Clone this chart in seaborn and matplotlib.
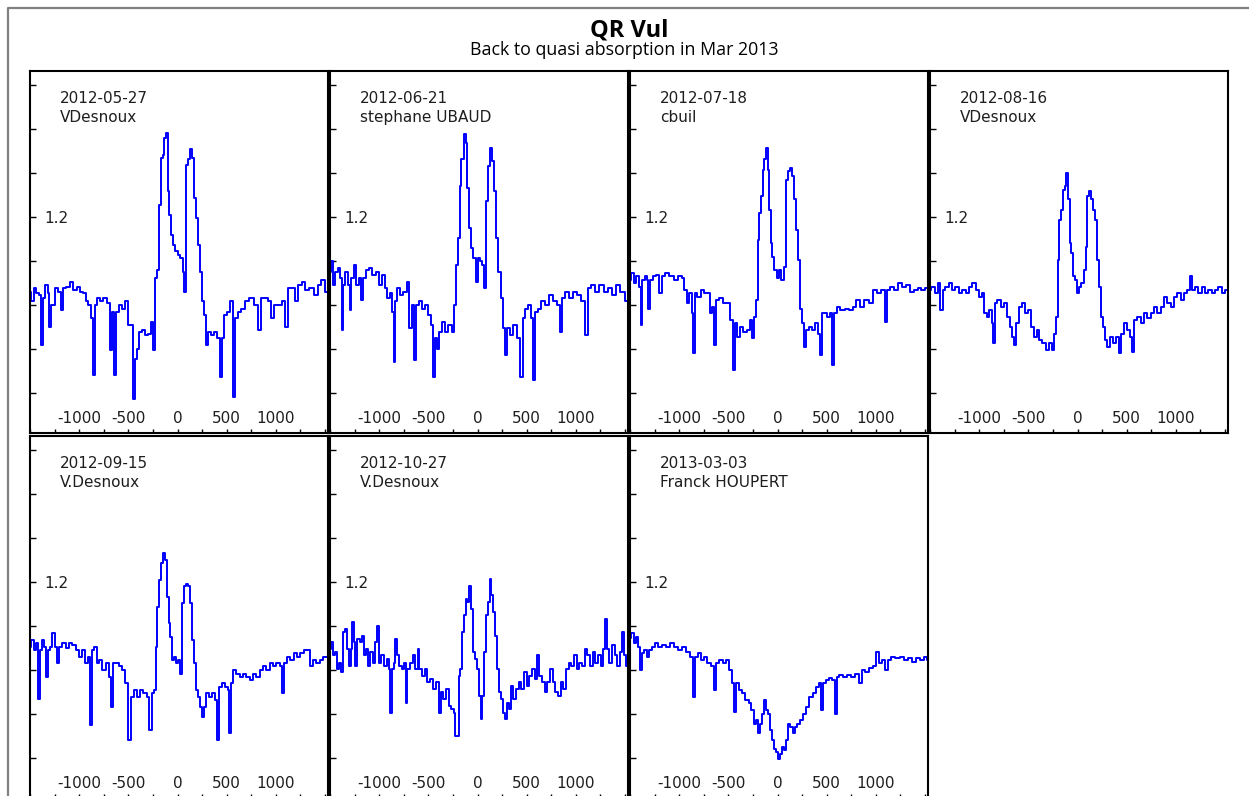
import matplotlib
matplotlib.use("Agg")
import matplotlib.pyplot as plt
import seaborn as sns
from matplotlib.ticker import FixedLocator, FixedFormatter
from matplotlib.lines import Line2D

# ---------------- data ----------------
title = "QR Vul"
subtitle = "Back to quasi absorption in Mar 2013"
dates = ["2012-05-27", "2012-06-21", "2012-07-18", "2012-08-16",
         "2012-09-15", "2012-10-27", "2013-03-03"]
observers = ["VDesnoux", "stephane UBAUD", "cbuil", "VDesnoux",
             "V.Desnoux", "V.Desnoux", "Franck HOUPERT"]
x_tick_values = [-1500, -1000, -500, 0, 500, 1000, 1500]
x_tick_labels = ["", "-1000", "-500", "0", "500", "1000", ""]
x_minor_values = [-1250, -750, -250, 250, 750, 1250]
y_tick_values = [1.2]
y_tick_labels = ["1.2"]
y_minor_values = [0.8, 0.9, 1.0, 1.1, 1.3, 1.4, 1.5]

vel_1 = [-1502, -1475, -1451, -1417, -1393, -1376, -1359, -1332, -1312, -1298, -1278, -1258,
         -1231, -1203, -1173, -1146, -1112, -1078, -1044, -1010, -976, -949, -919, -892, -871,
         -851, -831, -807, -773, -739, -705, -671, -654, -631, -610, -580, -546, -512, -485,
         -464, -444, -424, -400, -376, -349, -315, -281, -258, -241, -220, -197, -180, -163,
         -142, -125, -105, -92, -75, -54, -34, -10, 14, 41, 61, 78, 95, 115, 136, 156, 173,
         193, 217, 237, 258, 278, 295, 319, 353, 386, 417, 437, 458, 481, 515, 546, 573, 593,
         627, 668, 709, 753, 797, 837, 864, 905, 939, 966, 1000, 1041, 1081, 1108, 1136, 1176,
         1210, 1244, 1278, 1319, 1363, 1407, 1441, 1475, 1515, 1549]
flux_1 = [1.030, 1.008, 1.038, 1.027, 1.023, 0.909, 1.015, 1.046, 1.027, 0.951, 1.000, 1.000,
          1.038, 1.030, 0.989, 1.038, 1.042, 1.053, 1.034, 1.042, 1.030, 1.027, 1.008, 1.000, 0.970,
          0.840, 1.000, 1.015, 1.008, 1.015, 1.004, 0.897, 0.985, 0.840, 0.985, 1.000, 0.992, 1.008, 0.954,
          0.954, 0.787, 0.878, 0.901, 0.939, 0.943, 0.932, 0.935, 0.962, 0.897, 1.061, 1.080, 1.228, 1.335,
          1.342, 1.380, 1.390, 1.259, 1.205, 1.160, 1.137, 1.122, 1.114, 1.106, 1.076, 1.030, 1.319, 1.331, 1.354, 1.335, 1.243,
          1.198, 1.137, 1.076, 1.008, 0.977, 0.909, 0.939, 0.932, 0.939, 0.924, 0.837, 0.924, 0.977, 0.985, 1.008, 0.791, 0.970,
          0.985, 0.992, 1.008, 1.015, 1.000, 0.943, 1.015, 1.015, 1.008, 0.970, 1.000, 1.000, 1.008, 0.951, 1.038, 1.038,
          1.008, 1.046, 1.053, 1.034, 1.038, 1.023, 1.046, 1.057, 1.030, 1.038]

vel_2 = [-1502, -1481, -1461, -1434, -1407, -1387, -1373, -1356, -1332, -1309, -1292, -1271,
         -1248, -1220, -1197, -1180, -1156, -1122, -1088, -1054, -1020, -986, -959, -932, -902,
         -874, -858, -844, -827, -803, -773, -739, -705, -681, -661, -631, -610, -580, -546,
         -512, -485, -464, -444, -424, -400, -376, -349, -315, -281, -248, -227, -210, -190,
         -173, -153, -132, -112, -95, -75, -54, -31, -10, 10, 34, 54, 75, 92, 112, 132, 153,
         176, 200, 224, 244, 268, 288, 312, 346, 380, 414, 447, 471, 498, 532, 556, 573, 593,
         627, 668, 709, 742, 787, 831, 844, 864, 905, 946, 990, 1034, 1075, 1108, 1136, 1176,
         1217, 1261, 1305, 1346, 1386, 1431, 1475, 1515, 1549]
flux_2 = [1.076, 1.099, 1.046, 1.076, 1.084, 1.061, 0.943, 1.046, 1.076, 1.046, 0.989, 1.061,
          1.091, 1.046, 1.061, 1.011, 1.061, 1.080, 1.084, 1.068, 1.076, 1.046, 1.068, 1.038, 1.015,
          1.027, 0.985, 0.871, 1.008, 1.038, 1.023, 1.030, 1.053, 0.947, 1.000, 0.874, 1.000, 1.008, 0.992,
          1.000, 0.977, 0.954, 0.837, 0.924, 0.901, 0.939, 0.962, 0.939, 0.954, 0.939, 1.000, 1.091, 1.152,
          1.270, 1.331, 1.388, 1.369, 1.266, 1.175, 1.129, 1.106, 1.053, 1.106, 1.099, 1.091, 1.038, 1.236, 1.316, 1.357, 1.327,
          1.259, 1.152, 1.076, 1.015, 0.947, 0.886, 0.947, 0.932, 0.954, 0.924, 0.837, 0.970, 0.992, 1.000, 0.970, 0.829, 0.985,
          0.992, 1.008, 1.000, 1.023, 1.008, 1.000, 0.939, 1.015, 1.030, 1.015, 1.030, 1.023, 1.008, 0.932, 1.038, 1.046,
          1.030, 1.046, 1.030, 1.038, 1.023, 1.046, 1.030, 1.008, 1.030]

vel_3 = [-1502, -1475, -1448, -1421, -1400, -1383, -1366, -1339, -1319, -1305, -1285, -1248,
         -1214, -1187, -1163, -1122, -1078, -1034, -993, -959, -936, -909, -885, -864, -851,
         -834, -800, -766, -732, -702, -671, -654, -631, -610, -576, -536, -502, -468, -447,
         -427, -400, -366, -332, -298, -268, -247, -224, -210, -193, -176, -159, -142, -125,
         -108, -92, -78, -61, -44, -20, 3, 27, 51, 75, 92, 112, 132, 153, 173, 193, 217, 241,
         261, 281, 302, 329, 363, 397, 420, 437, 458, 488, 522, 549, 566, 586, 617, 661, 702,
         742, 786, 820, 861, 905, 946, 990, 1034, 1075, 1105, 1125, 1159, 1203, 1244, 1285,
         1329, 1373, 1407, 1441, 1481, 1515, 1549]
flux_3 = [1.057, 1.072, 1.049, 1.065, 1.042, 0.954, 1.057, 1.065, 1.057, 0.992, 1.057, 1.065,
          1.068, 1.027, 1.065, 1.072, 1.065, 1.057, 1.065, 1.061, 1.034, 1.004, 1.027, 0.981, 0.890,
          1.027, 1.019, 1.034, 1.027, 1.027, 0.981, 0.996, 0.909, 1.011, 1.015, 1.004, 1.004, 0.966, 0.852,
          0.958, 0.928, 0.951, 0.939, 0.943, 0.966, 0.924, 0.973, 1.011, 1.148, 1.209, 1.247, 1.308, 1.331,
          1.357, 1.308, 1.217, 1.141, 1.110, 1.080, 1.061, 1.080, 1.057, 1.087, 1.285, 1.304, 1.312, 1.293, 1.240, 1.171, 1.103, 0.992,
          0.958, 0.905, 0.943, 0.951, 0.943, 0.958, 0.935, 0.886, 0.981, 0.981, 0.973, 0.981, 0.863, 0.981, 0.996, 0.989, 0.992,
          0.989, 0.996, 1.011, 0.996, 1.011, 1.004, 1.034, 1.027, 1.034, 0.962, 1.034, 1.042, 1.034, 1.049, 1.042,
          1.046, 1.030, 1.034, 1.038, 1.034, 1.038, 1.034]

vel_4 = [-1502, -1468, -1434, -1407, -1383, -1359, -1326, -1292, -1258, -1224, -1190, -1156,
         -1122, -1088, -1054, -1020, -986, -959, -936, -909, -885, -864, -851, -831, -797,
         -763, -729, -702, -675, -654, -634, -614, -586, -553, -519, -485, -458, -431, -403,
         -376, -342, -308, -275, -247, -227, -210, -193, -176, -159, -142, -122, -105, -88,
         -75, -58, -41, -20, 3, 27, 51, 71, 92, 108, 125, 146, 166, 186, 207, 227, 244, 264,
         285, 312, 346, 380, 407, 431, 454, 481, 515, 542, 566, 590, 624, 658, 692, 725, 759,
         793, 827, 861, 895, 929, 963, 997, 1031, 1064, 1098, 1132, 1156, 1176, 1210, 1244,
         1278, 1312, 1346, 1380, 1414, 1448, 1481, 1515, 1549]
flux_4 = [1.034, 1.042, 1.027, 1.049, 0.989, 1.034, 1.042, 1.049, 1.034, 1.042, 1.027, 1.034,
          1.027, 1.042, 1.049, 1.034, 1.019, 1.027, 0.981, 0.973, 0.989, 0.958, 0.913, 1.004, 1.011,
          0.996, 1.004, 0.973, 0.951, 0.928, 0.909, 0.958, 0.996, 1.004, 0.981, 0.989, 0.951, 0.928, 0.943,
          0.920, 0.913, 0.897, 0.913, 0.897, 0.935, 0.973, 1.103, 1.194, 1.217, 1.262, 1.270, 1.300, 1.240,
          1.141, 1.118, 1.065, 1.057, 1.027, 1.042, 1.049, 1.080, 1.133, 1.247, 1.259, 1.240, 1.217, 1.194, 1.103, 1.042, 0.973, 0.951,
          0.920, 0.905, 0.928, 0.913, 0.928, 0.890, 0.935, 0.958, 0.943, 0.928, 0.894, 0.966, 0.973, 0.958, 0.981, 0.970, 0.981,
          0.996, 0.981, 0.996, 1.019, 1.004, 0.996, 1.019, 1.027, 1.011, 1.027, 1.034, 1.065, 1.034, 1.042, 1.027,
          1.042, 1.027, 1.034, 1.027, 1.034, 1.042, 1.027, 1.034, 1.004]

vel_5 = [-1502, -1475, -1448, -1427, -1410, -1393, -1366, -1346, -1332, -1312, -1285, -1264,
         -1237, -1214, -1190, -1156, -1122, -1088, -1054, -1020, -986, -953, -925, -905, -885,
         -864, -837, -810, -783, -749, -715, -688, -668, -647, -614, -580, -546, -512, -485,
         -464, -431, -397, -363, -329, -295, -275, -254, -231, -214, -197, -180, -159, -142,
         -122, -102, -81, -64, -47, -27, -7, 14, 34, 54, 71, 92, 112, 132, 153, 173, 193, 214,
         237, 258, 281, 308, 336, 363, 390, 414, 437, 464, 498, 519, 532, 553, 580, 614, 648,
         681, 715, 749, 783, 817, 851, 885, 919, 953, 986, 1020, 1054, 1075, 1095, 1129, 1163,
         1197, 1231, 1264, 1298, 1332, 1359, 1393, 1427, 1461, 1495, 1529, 1549]
flux_5 = [1.053, 1.068, 1.046, 1.061, 0.935, 1.046, 1.068, 1.053, 0.985, 1.046, 1.053, 1.084,
          1.053, 1.015, 1.053, 1.061, 1.049, 1.061, 1.057, 1.046, 1.030, 1.046, 1.015, 1.030, 0.875,
          1.046, 1.053, 1.015, 1.023, 1.000, 1.015, 0.985, 0.916, 1.015, 1.015, 1.008, 1.000, 0.970, 0.840,
          0.939, 0.954, 0.939, 0.954, 0.947, 0.939, 0.863, 0.947, 0.954, 1.053, 1.144, 1.205, 1.243, 1.266,
          1.251, 1.167, 1.106, 1.076, 1.023, 1.030, 1.015, 1.023, 0.992, 1.152, 1.190, 1.196, 1.190, 1.152, 1.068, 1.015, 0.954, 0.939,
          0.916, 0.894, 0.916, 0.947, 0.939, 0.947, 0.932, 0.840, 0.962, 0.970, 0.962, 0.954, 0.856, 0.970, 1.000, 0.992, 0.985,
          0.992, 0.985, 0.977, 0.992, 0.985, 1.000, 1.008, 1.000, 1.015, 1.008, 1.015, 1.008, 0.947, 1.015, 1.030, 1.023,
          1.038, 1.030, 1.038, 1.046, 1.046, 1.008, 1.023, 1.015, 1.023, 1.030, 1.030, 1.030]

vel_6 = [-1502, -1481, -1461, -1441, -1420, -1400, -1380, -1363, -1339, -1319, -1298, -1285,
         -1271, -1251, -1231, -1210, -1183, -1163, -1142, -1122, -1102, -1081, -1054, -1027,
         -1010, -993, -966, -939, -912, -895, -881, -864, -844, -827, -807, -783, -763, -742,
         -722, -702, -675, -647, -620, -600, -580, -553, -525, -498, -468, -437, -410, -383,
         -363, -336, -308, -281, -254, -234, -217, -200, -183, -166, -153, -132, -112, -92, -75,
         -58, -41, -20, 0, 20, 41, 58, 75, 92, 112, 132, 149, 166, 183, 203, 224, 244, 264, 285,
         305, 329, 353, 376, 403, 431, 458, 485, 512, 539, 566, 593, 617, 641, 668, 695, 722,
         749, 776, 803, 831, 858, 885, 912, 939, 966, 993, 1020, 1047, 1075, 1102, 1129, 1156,
         1183, 1210, 1237, 1264, 1285, 1305, 1326, 1353, 1380, 1407, 1434, 1461, 1481, 1502,
         1522, 1549]
flux_6 = [1.048, 1.063, 1.033, 1.040, 1.002, 1.017, 0.995, 1.086, 1.094, 1.048, 1.010, 1.048,
          1.109, 1.063, 1.010, 1.071, 1.063, 1.078, 1.033, 1.048, 1.010, 1.040, 1.017, 1.063,
          1.101, 1.017, 1.033, 1.010, 1.025, 1.002, 0.903, 1.002, 1.017, 1.071, 1.033, 1.010, 1.002, 1.017,
          0.926, 1.002, 1.017, 1.033, 1.002, 1.048, 1.002, 0.987, 1.002, 0.972, 0.979, 0.957, 0.972, 0.903,
          0.949, 0.934, 0.957, 0.919, 0.911, 0.903, 0.850, 0.850, 0.987, 1.002, 1.086, 1.124, 1.162, 1.154, 1.192,
          1.139, 1.040, 1.025, 1.002, 0.941, 0.888, 0.941, 1.040, 1.124, 1.154, 1.208, 1.170, 1.132, 1.078, 1.002, 0.949, 0.934, 0.903, 0.888,
          0.926, 0.911, 0.964, 0.934, 0.957, 0.972, 0.957, 0.995, 0.964, 0.987, 1.002, 0.979, 1.033, 0.987, 0.972, 0.949, 0.972,
          1.002, 0.972, 0.949, 0.941, 0.972, 0.957, 1.002, 1.017, 1.010, 1.033, 1.002, 1.017, 1.010, 1.048, 1.033, 1.010,
          1.040, 1.017, 1.033, 1.010, 1.048, 1.116, 1.048, 1.017, 1.056, 1.033, 1.010, 1.040, 1.086, 1.033,
          1.010, 1.017]

vel_7 = [-1503, -1474, -1450, -1433, -1409, -1388, -1368, -1343, -1319, -1294, -1261, -1229,
         -1196, -1155, -1114, -1073, -1032, -991, -950, -909, -876, -848, -827, -794, -762,
         -729, -696, -663, -635, -610, -573, -541, -508, -475, -450, -430, -405, -377, -344,
         -311, -278, -254, -229, -209, -188, -168, -147, -127, -106, -86, -66, -45, -25, -4,
         16, 37, 57, 78, 98, 119, 143, 164, 188, 217, 246, 278, 307, 340, 373, 405, 430, 455,
         479, 508, 541, 573, 590, 610, 647, 688, 729, 770, 811, 844, 872, 913, 954, 987, 1016,
         1040, 1077, 1110, 1138, 1179, 1220, 1261, 1302, 1343, 1384, 1425, 1466, 1507, 1540]
flux_7 = [1.072, 1.084, 1.061, 1.076, 1.053, 1.000, 1.038, 1.046, 1.030, 1.046, 1.053, 1.061,
          1.053, 1.057, 1.053, 1.061, 1.053, 1.046, 1.053, 1.042, 1.030, 0.939, 1.030, 1.038, 1.023,
          1.030, 1.015, 1.008, 0.954, 1.015, 1.023, 1.015, 1.023, 1.000, 0.970, 0.905, 0.970, 0.954, 0.947,
          0.932, 0.924, 0.909, 0.878, 0.886, 0.856, 0.878, 0.901, 0.932, 0.909, 0.901, 0.863, 0.840, 0.821, 0.814,
          0.798, 0.810, 0.825, 0.817, 0.840, 0.878, 0.871, 0.856, 0.871, 0.878, 0.886, 0.901, 0.916, 0.939, 0.947, 0.962, 0.970, 0.909,
          0.970, 0.977, 0.981, 0.977, 0.901, 0.985, 0.989, 0.985, 0.989, 0.985, 0.992, 0.970, 1.000, 0.996, 1.004, 1.008, 1.042,
          1.015, 1.023, 1.000, 1.023, 1.030, 1.027, 1.030, 1.023, 1.027, 1.019, 1.027, 1.023, 1.030, 1.023]

velocities = [vel_1, vel_2, vel_3, vel_4, vel_5, vel_6, vel_7]
fluxes = [flux_1, flux_2, flux_3, flux_4, flux_5, flux_6, flux_7]

# ---------------- figure ----------------
sns.set_style("white")
plt.rcParams["font.family"] = ["DejaVu Sans"]
plt.rcParams["axes.unicode_minus"] = False

W, H = 1249, 796
fig = plt.figure(figsize=(W / 100, H / 100), dpi=100)
fig.patch.set_facecolor("white")

# outer grey frame (left and top edges visible)
fig.add_artist(Line2D([8 / W, 8 / W, 1.0], [0.0, 1 - 8 / H, 1 - 8 / H],
                      transform=fig.transFigure, color="#808080", lw=1.6))

fig.text(629 / W, 1 - 36.7 / H, title, ha="center", va="baseline",
         fontsize=17, fontweight="bold", family=["Open Sans", "DejaVu Sans"], color="black")
fig.text(624 / W, 1 - 55 / H, subtitle, ha="center", va="baseline",
         fontsize=12.8, family=["Open Sans", "DejaVu Sans"], color="black")

panel_w, panel_h = 298, 362
row_tops = [71, 436]
text_color = "#1e1e1e"

for i in range(7):
    row, col = divmod(i, 4)
    left = 30 + 300 * col
    top = row_tops[row]
    ax = fig.add_axes([left / W, 1 - (top + panel_h) / H, panel_w / W, panel_h / H])
    sns.lineplot(x=velocities[i], y=fluxes[i], ax=ax, color="#0000ff", lw=1.4,
                 drawstyle="steps-mid", estimator=None, sort=False)
    ax.set_xlim(-1500, 1530)
    ax.set_ylim(0.709, 1.532)
    ax.set_xlabel("")
    ax.set_ylabel("")
    ax.xaxis.set_major_locator(FixedLocator(x_tick_values))
    ax.xaxis.set_major_formatter(FixedFormatter(x_tick_labels))
    ax.xaxis.set_minor_locator(FixedLocator(x_minor_values))
    ax.yaxis.set_major_locator(FixedLocator(y_tick_values))
    ax.yaxis.set_major_formatter(FixedFormatter(y_tick_labels))
    ax.yaxis.set_minor_locator(FixedLocator(y_minor_values))
    ax.tick_params(axis="x", which="both", direction="in", bottom=True, top=False,
                   length=3, width=1, color="black", pad=-15.5, labelsize=11,
                   labelcolor=text_color)
    ax.tick_params(axis="y", which="both", direction="in", left=True, right=False,
                   length=4.5, width=1, color="black", pad=-10, labelsize=11,
                   labelcolor=text_color)
    for lab in ax.get_yticklabels():
        lab.set_horizontalalignment("left")
    for s in ax.spines.values():
        s.set_visible(True)
        s.set_color("black")
        s.set_linewidth(1.5)
    ax.text(0.1, 0.911, dates[i], transform=ax.transAxes, fontsize=11,
            color=text_color, va="baseline", ha="left")
    ax.text(0.1, 0.860, observers[i], transform=ax.transAxes, fontsize=11,
            color=text_color, va="baseline", ha="left")

fig.savefig("out.png", dpi=100)
